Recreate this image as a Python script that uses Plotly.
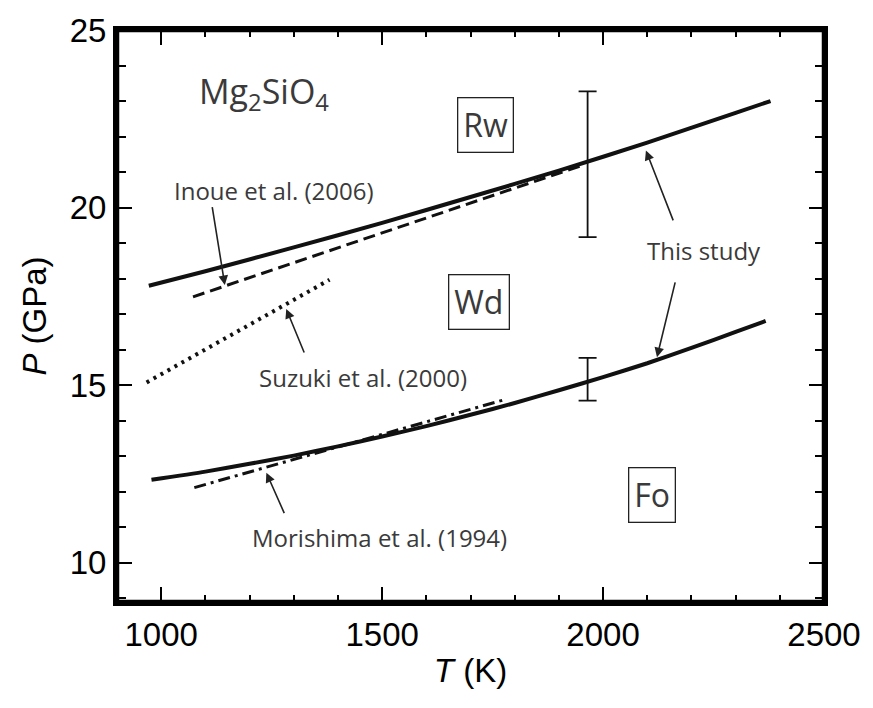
import plotly.graph_objects as go

# Phase boundaries in Mg2SiO4 (T in K, P in GPa)
T_rw_wd = [972, 1100, 1300, 1500, 1700, 1900, 2100, 2300, 2379]
P_rw_wd = [17.80, 18.21, 18.88, 19.57, 20.30, 21.04, 21.83, 22.67, 23.00]

T_wd_fo = [978, 1100, 1200, 1300, 1400, 1500, 1600, 1700, 1800, 1900, 2000, 2100, 2200, 2300, 2368]
P_wd_fo = [12.34, 12.57, 12.79, 13.02, 13.28, 13.56, 13.85, 14.17, 14.50, 14.86, 15.23, 15.62, 16.05, 16.50, 16.81]

T_inoue = [1072, 1950]
P_inoue = [17.49, 21.18]

T_suzuki = [967, 1381]
P_suzuki = [15.08, 17.97]

T_morishima = [1075, 1773]
P_morishima = [12.12, 14.58]

# Representative uncertainties of this study
T_err = [1965, 1965]
P_err = [21.22, 15.17]
P_err_size = [2.05, 0.60]

INK = "#111111"
LABEL = "#3a3a3a"

fig = go.Figure()

fig.add_trace(go.Scatter(x=T_rw_wd, y=P_rw_wd, mode="lines", line=dict(color=INK, width=4, shape="spline", smoothing=0.6)))
fig.add_trace(go.Scatter(x=T_wd_fo, y=P_wd_fo, mode="lines", line=dict(color=INK, width=4, shape="spline", smoothing=0.6)))
fig.add_trace(go.Scatter(x=T_inoue, y=P_inoue, mode="lines", line=dict(color=INK, width=3, dash="12px,6px")))
fig.add_trace(go.Scatter(x=T_suzuki, y=P_suzuki, mode="lines", line=dict(color=INK, width=4, dash="3px,5px")))
fig.add_trace(go.Scatter(x=T_morishima, y=P_morishima, mode="lines", line=dict(color=INK, width=3, dash="12px,5px,3px,5px")))
fig.add_trace(go.Scatter(
    x=T_err, y=P_err, mode="markers", marker=dict(size=1, color="rgba(0,0,0,0)"),
    error_y=dict(type="data", array=P_err_size, visible=True, color=INK, thickness=1.8, width=9),
))

FONT_LBL = "Open Sans"

def text_label(x, y, s, size=24, box=False):
    fig.add_annotation(
        x=x, y=y, xref="x", yref="y", text=s, showarrow=False,
        font=dict(family=FONT_LBL, size=size, color=LABEL),
        bordercolor="#222222" if box else None, borderwidth=1.3 if box else 0,
        borderpad=5 if box else 0, bgcolor="white" if box else None,
    )

text_label(1233, 23.22, "Mg<sub>2</sub>SiO<sub>4</sub>", size=34)
text_label(1733, 22.32, "Rw", size=32, box=True)
text_label(1719, 17.34, "Wd", size=32, box=True)
text_label(2111, 11.92, "Fo", size=32, box=True)
text_label(1256, 20.48, "Inoue et al. (2006)")
text_label(1457, 15.23, "Suzuki et al. (2000)")
text_label(1493, 10.71, "Morishima et al. (1994)")
text_label(2229, 18.79, "This study")

# Pointer arrows: (tip T, tip P, tail T, tail P)
arrows = [
    (1144, 17.82, 1115, 20.06),
    (1283, 17.15, 1325, 15.88),
    (1238, 12.54, 1280, 11.36),
    (2097, 21.61, 2160, 19.60),
    (2122, 15.79, 2164, 17.94),
]
for tx, ty, ax_, ay_ in arrows:
    fig.add_annotation(
        x=tx, y=ty, ax=ax_, ay=ay_, xref="x", yref="y", axref="x", ayref="y",
        text="", showarrow=True, arrowhead=2, arrowsize=1.2, arrowwidth=1.6,
        arrowcolor="#222222",
    )

# Heavy frame around the plotting area
fig.add_shape(type="rect", xref="paper", yref="paper", x0=0, y0=0, x1=1, y1=1,
              line=dict(color="black", width=4.5), layer="above")

axis_common = dict(
    showline=True, linewidth=4, linecolor="black", mirror="allticks",
    ticks="inside", ticklen=15, tickwidth=2, tickcolor="black",
    showgrid=False, zeroline=False,
    tickfont=dict(family="Liberation Sans", size=33, color="black"),
    title_font=dict(family="Liberation Sans", size=33, color="black"),
)

fig.update_xaxes(
    range=[900, 2500], tickvals=[1000, 1500, 2000, 2500],
    minor=dict(dtick=100, tick0=0, ticks="inside", ticklen=7, tickwidth=2, tickcolor="black", showgrid=False),
    title_text="<i>T</i> (K)", title_standoff=8,
    **axis_common,
)
fig.update_yaxes(
    range=[8.9, 25.0], tickvals=[10, 15, 20, 25],
    minor=dict(dtick=1, tick0=0, ticks="inside", ticklen=9, tickwidth=2, tickcolor="black", showgrid=False),
    title_text="<i>P</i> (GPa)", title_standoff=14,
    **axis_common,
)

fig.update_layout(
    width=873, height=708,
    margin=dict(l=117, r=41, t=29, b=106),
    paper_bgcolor="white", plot_bgcolor="white",
    showlegend=False,
)

fig.write_html("out.html")
